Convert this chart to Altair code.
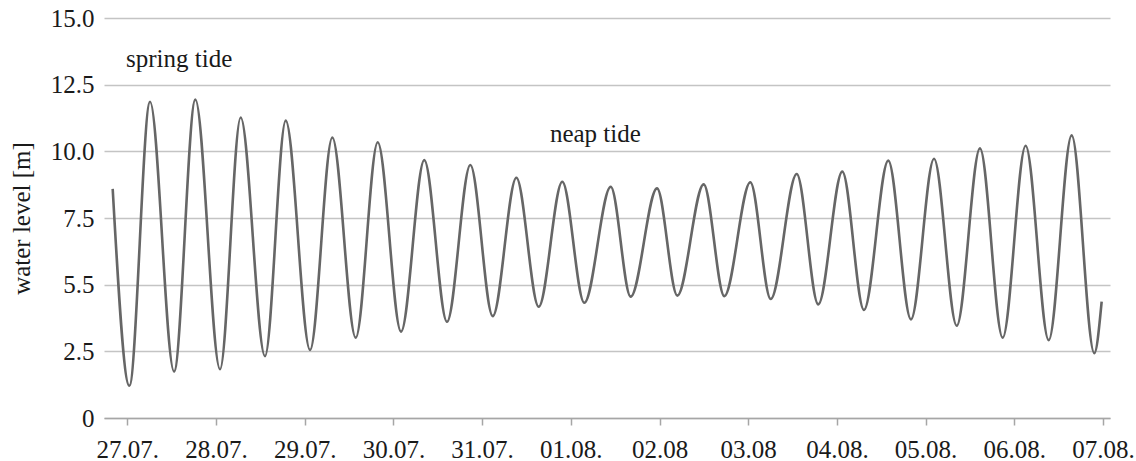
import json
import altair as alt
import pandas as pd

# Tidal water level, 27.07. - 07.08. (time in days since 27.07. 00:00)
start_t, start_v = -0.165, 8.59
end_t, end_v = 10.985, 4.36

high_t = [0.256, 0.767, 1.278, 1.786, 2.311, 2.823, 3.348, 3.867, 4.386, 4.904,
          5.450, 5.972, 6.498, 7.024, 7.547, 8.061, 8.579, 9.095, 9.613, 10.128,
          10.647]
high_v = [11.86, 11.94, 11.27, 11.15, 10.52, 10.34, 9.67, 9.49, 9.01, 8.86,
          8.67, 8.61, 8.76, 8.84, 9.15, 9.24, 9.65, 9.72, 10.11, 10.21,
          10.60]

low_t = [0.023, 0.527, 1.045, 1.552, 2.060, 2.575, 3.086, 3.604, 4.120, 4.638,
         5.152, 5.675, 6.201, 6.731, 7.254, 7.790, 8.305, 8.835, 9.351, 9.869,
         10.388, 10.902]
low_v = [1.21, 1.74, 1.83, 2.32, 2.55, 3.01, 3.24, 3.61, 3.82, 4.17,
         4.32, 4.55, 4.59, 4.57, 4.46, 4.26, 4.05, 3.70, 3.46, 3.01,
         2.92, 2.43]

day_labels = ["27.07.", "28.07.", "29.07.", "30.07.", "31.07.", "01.08.",
              "02.08", "03.08", "04.08.", "05.08.", "06.08.", "07.08."]
y_ticks = [0, 2.5, 5, 7.5, 10, 12.5, 15]
y_labels = ["0", "2.5", "5.5", "7.5", "10.0", "12.5", "15.0"]

t = [start_t] + high_t + low_t + [end_t]
v = [start_v] + high_v + low_v + [end_v]
tide = pd.DataFrame({"t": t, "level": v}).sort_values("t")

FONT = "Liberation Serif"
SIZE = 25
INK = "#1a1a1a"

x_expr = json.dumps(day_labels) + "[round(datum.value)]"
y_expr = " : ".join(
    f"datum.value == {val} ? '{lab}'" for val, lab in zip(y_ticks, y_labels)
) + " : ''"

x = alt.X(
    "t:Q",
    scale=alt.Scale(domain=[-0.263, 11.079], nice=False, zero=False),
    axis=alt.Axis(
        values=list(range(len(day_labels))),
        labelExpr=x_expr,
        grid=False,
        domainColor="#a6a6a6",
        domainWidth=1.5,
        tickColor="#a6a6a6",
        tickWidth=1.5,
        tickSize=7,
        labelPadding=12,
        labelFont=FONT,
        labelFontSize=SIZE,
        labelColor=INK,
        title=None,
    ),
)
y = alt.Y(
    "level:Q",
    scale=alt.Scale(domain=[0, 15], nice=False),
    axis=alt.Axis(
        values=y_ticks,
        labelExpr=y_expr,
        grid=True,
        gridColor="#c4c4c4",
        gridWidth=1.5,
        domain=False,
        ticks=False,
        labelPadding=10,
        labelFont=FONT,
        labelFontSize=SIZE,
        labelColor=INK,
        title="water level [m]",
        titleFont=FONT,
        titleFontSize=SIZE,
        titleFontWeight="normal",
        titleColor=INK,
        titlePadding=16,
    ),
)

line = alt.Chart(tide).mark_line(
    interpolate="monotone", color="#666666", strokeWidth=2.6
).encode(x=x, y=y)

spring = alt.Chart().mark_text(
    text="spring tide", align="left", baseline="alphabetic",
    font=FONT, fontSize=SIZE, color=INK
).encode(x=alt.datum(-0.015), y=alt.datum(13.17))

neap = alt.Chart().mark_text(
    text="neap tide", align="left", baseline="alphabetic",
    font=FONT, fontSize=SIZE, color=INK
).encode(x=alt.datum(4.764), y=alt.datum(10.35))

chart = (
    alt.layer(line, spring, neap)
    .properties(
        width=1006,
        height=400,
        autosize=alt.AutoSizeParams(type="none"),
        padding={"left": 104, "top": 18, "right": 26, "bottom": 43},
        background="white",
    )
    .configure_view(stroke=None)
)

chart.save("out.html", embed_options={"renderer": "svg", "actions": False})
